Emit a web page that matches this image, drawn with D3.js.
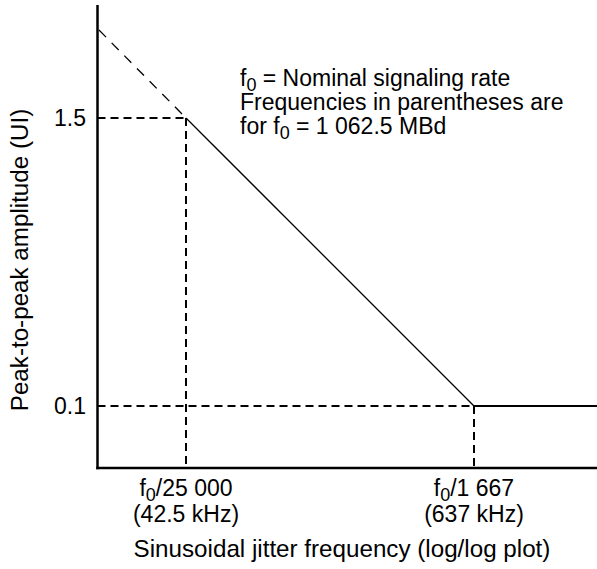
<!DOCTYPE html>
<html><head><meta charset="utf-8">
<script src="https://cdn.jsdelivr.net/npm/d3@7"></script>
<style>body{margin:0;background:#fff}svg{display:block}text{font-family:"Liberation Sans",Arial,sans-serif;fill:#000}</style>
</head><body>
<script>
// Data (frequency in units of f0, amplitude in UI)
const freqTicks = [1/25000, 1/1667];
const freqTickLabels = ["/25 000", "/1 667"];
const freqNotes = ["(42.5 kHz)", "(637 kHz)"];
const ampTicks = [1.5, 0.1];
const ampTickLabels = ["1.5", "0.1"];
const maskFreq = [1/25000, 1/1667, 1.907e-3];
const maskAmp = [1.5, 0.1, 0.1];
const extFreq = [1.765e-5, 1/25000];
const extAmp = [3.43, 1.5];
const noteLines = [
  [["f",""],["0","sub"],[" = Nominal signaling rate",""]],
  [["Frequencies in parentheses are",""]],
  [["for f",""],["0","sub"],[" = 1 062.5 MBd",""]]
];

(function () {
const W = 597, H = 569;
const svg = d3.select("body").append("svg").attr("width", W).attr("height", H);
const x = d3.scaleLog().domain(freqTicks).range([186, 474]);
const y = d3.scaleLog().domain(ampTicks).range([118, 406]);
const pL = 97.5, pR = 597, pT = 5, pB = 468;
const fsTick = 23, fsTitle = 24.2, fsNote = 23;

// dashed guides
const dash = "8,5";
ampTicks.forEach((a, i) => {
  svg.append("line").attr("x1", pL).attr("x2", x(freqTicks[i]))
    .attr("y1", y(a)).attr("y2", y(a))
    .attr("stroke", "#000").attr("stroke-width", 2).attr("stroke-dasharray", dash);
  svg.append("line").attr("x1", x(freqTicks[i])).attr("x2", x(freqTicks[i]))
    .attr("y1", y(a)).attr("y2", pB)
    .attr("stroke", "#000").attr("stroke-width", 2).attr("stroke-dasharray", dash);
});
// dashed extension
const line = d3.line().x(d => x(d[0])).y(d => y(d[1]));
svg.append("path").attr("d", line(d3.zip(extFreq, extAmp)))
  .attr("fill", "none").attr("stroke", "#000").attr("stroke-width", 1.3).attr("stroke-dasharray", "10,8");
// mask line
const md = d3.zip(maskFreq, maskAmp);
svg.append("path").attr("d", line(md.slice(0, 2)))
  .attr("fill", "none").attr("stroke", "#000").attr("stroke-width", 1.3);
svg.append("path").attr("d", line(md.slice(1)))
  .attr("fill", "none").attr("stroke", "#000").attr("stroke-width", 2);

// axes
svg.append("line").attr("x1", pL).attr("x2", pL).attr("y1", pT).attr("y2", pB + 1.25)
  .attr("stroke", "#000").attr("stroke-width", 2.5);
svg.append("line").attr("x1", pL - 1.25).attr("x2", pR).attr("y1", pB).attr("y2", pB)
  .attr("stroke", "#000").attr("stroke-width", 2.5);

// y tick labels
ampTicks.forEach((a, i) => {
  svg.append("text").attr("x", 86).attr("y", y(a)).attr("dy", "0.36em")
    .attr("text-anchor", "end").attr("font-size", fsTick).text(ampTickLabels[i]);
});
// x tick labels
freqTicks.forEach((f, i) => {
  const t = svg.append("text").attr("x", x(f)).attr("y", 496)
    .attr("text-anchor", "middle").attr("font-size", fsTick);
  t.append("tspan").text("f");
  t.append("tspan").attr("dy", 5).attr("font-size", 18).text("0");
  t.append("tspan").attr("dy", -5).text(freqTickLabels[i]);
  svg.append("text").attr("x", x(f)).attr("y", 522)
    .attr("text-anchor", "middle").attr("font-size", fsTick).text(freqNotes[i]);
});
// axis titles
svg.append("text").attr("x", 342).attr("y", 557).attr("text-anchor", "middle")
  .attr("font-size", fsTitle).text("Sinusoidal jitter frequency (log/log plot)");
svg.append("text").attr("transform", "translate(28,260) rotate(-90)")
  .attr("text-anchor", "middle").attr("font-size", fsTitle).text("Peak-to-peak amplitude (UI)");

// note
noteLines.forEach((parts, i) => {
  const t = svg.append("text").attr("x", 240).attr("y", 86 + i * 24).attr("font-size", fsNote);
  let shifted = false;
  parts.forEach(([s, k]) => {
    if (k === "sub") { t.append("tspan").attr("dy", 5).attr("font-size", 18).text(s); shifted = true; }
    else { t.append("tspan").attr("dy", shifted ? -5 : 0).text(s); shifted = false; }
  });
});
})();
</script>
</body></html>
